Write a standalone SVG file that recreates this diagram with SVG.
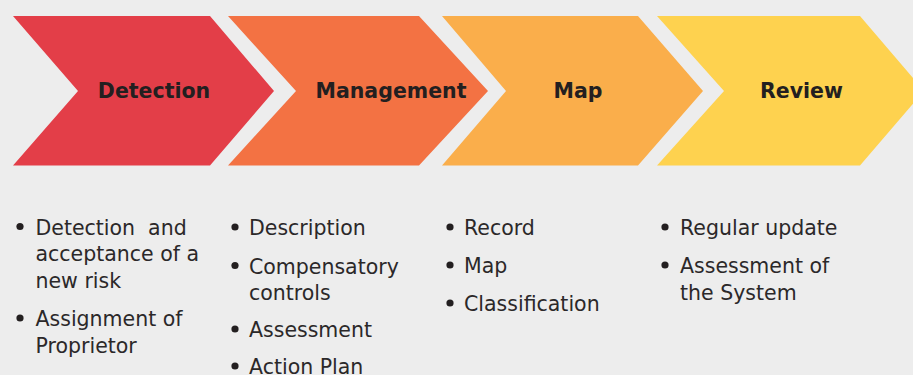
<svg xmlns="http://www.w3.org/2000/svg" width="913" height="375" viewBox="0 0 913 375">
  <style>
    .label { font-family: "DejaVu Sans", "Liberation Sans", sans-serif; font-weight: bold; font-size: 20.5px; fill: #231F20; text-anchor: middle; }
    .item { font-family: "DejaVu Sans", "Liberation Sans", sans-serif; font-size: 20.5px; fill: #2B2829; }
    .dot { fill: #231F20; }
  </style>
  <rect x="0" y="0" width="913" height="375" fill="#EDEDED"/>

  <!-- process stages -->
  <g id="stage-detection">
    <polygon points="13,16 210,16 274,91 210,165.5 13,165.5 78,91" fill="#E33E48"/>
    <text class="label" x="154" y="97.5">Detection</text>
  </g>
  <g id="stage-management">
    <polygon points="228,16 419,16 488,91 419,165.5 228,165.5 296,91" fill="#F37243"/>
    <text class="label" x="391" y="97.5">Management</text>
  </g>
  <g id="stage-map">
    <polygon points="442,16 638,16 703,91 638,165.5 442,165.5 506,91" fill="#FAAE4B"/>
    <text class="label" x="578" y="97.5">Map</text>
  </g>
  <g id="stage-review">
    <polygon points="657,16 860,16 924,91 860,165.5 657,165.5 724,91" fill="#FED24F"/>
    <text class="label" x="801.5" y="97.5">Review</text>
  </g>

  <!-- bullet lists under each stage -->
  <g id="list-detection">
    <circle class="dot" cx="20" cy="226.5" r="3.6"/>
    <text class="item" x="35.5" y="234.5" xml:space="preserve">Detection  and</text>
    <text class="item" x="35.5" y="261">acceptance of a</text>
    <text class="item" x="35.5" y="287.5">new risk</text>
    <circle class="dot" cx="20" cy="318" r="3.6"/>
    <text class="item" x="35.5" y="326">Assignment of</text>
    <text class="item" x="35.5" y="352.5">Proprietor</text>
  </g>
  <g id="list-management">
    <circle class="dot" cx="235" cy="227" r="3.6"/>
    <text class="item" x="249" y="235">Description</text>
    <circle class="dot" cx="235" cy="265.5" r="3.6"/>
    <text class="item" x="249" y="273.5">Compensatory</text>
    <text class="item" x="249" y="300">controls</text>
    <circle class="dot" cx="235" cy="329" r="3.6"/>
    <text class="item" x="249" y="337">Assessment</text>
    <circle class="dot" cx="235" cy="366" r="3.6"/>
    <text class="item" x="249" y="374">Action Plan</text>
  </g>
  <g id="list-map">
    <circle class="dot" cx="450" cy="227" r="3.6"/>
    <text class="item" x="464" y="235">Record</text>
    <circle class="dot" cx="450" cy="265" r="3.6"/>
    <text class="item" x="464" y="273">Map</text>
    <circle class="dot" cx="450" cy="303" r="3.6"/>
    <text class="item" x="464" y="311">Classification</text>
  </g>
  <g id="list-review">
    <circle class="dot" cx="665" cy="227" r="3.6"/>
    <text class="item" x="680" y="235">Regular update</text>
    <circle class="dot" cx="665" cy="265" r="3.6"/>
    <text class="item" x="680" y="273">Assessment of</text>
    <text class="item" x="680" y="299.5">the System</text>
  </g>
</svg>
